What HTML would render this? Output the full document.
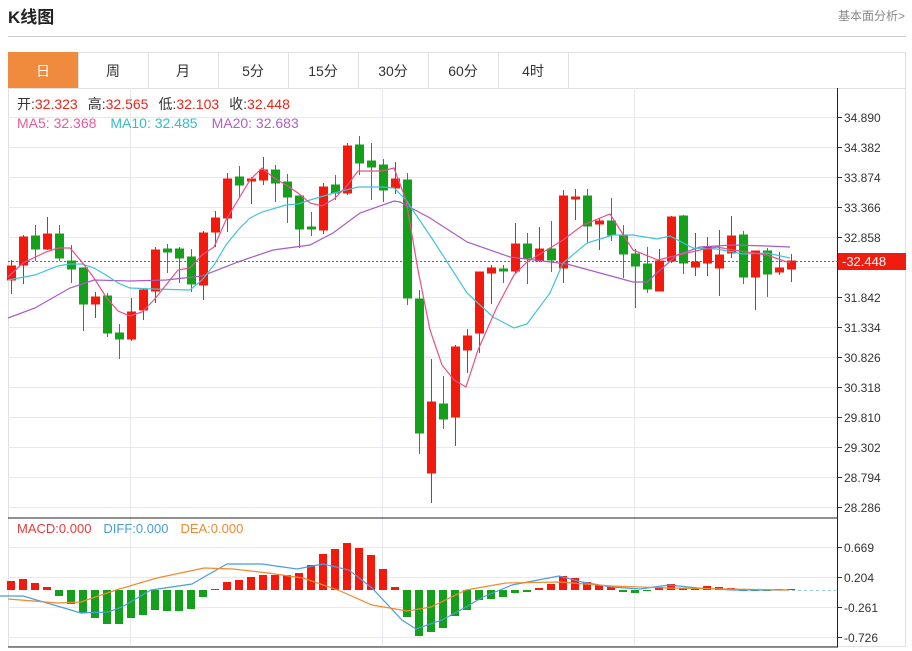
<!DOCTYPE html>
<html><head><meta charset="utf-8"><style>
body{margin:0;width:912px;height:651px;background:#fff;overflow:hidden;font-family:"Liberation Sans","Noto Sans CJK SC",sans-serif;}
</style></head><body>
<svg width="912" height="651" xmlns="http://www.w3.org/2000/svg" style="position:absolute;left:0;top:0;font-family:'Liberation Sans','Noto Sans CJK SC',sans-serif">
<text x="8" y="23" font-size="17" font-weight="bold" fill="#222">K线图</text>
<text x="905" y="20" font-size="12" fill="#888" text-anchor="end">基本面分析&gt;</text>
<line x1="8" y1="36.5" x2="906" y2="36.5" stroke="#ccc"/>
<rect x="8.5" y="52.5" width="897" height="594" fill="none" stroke="#e0e0e0"/>
<line x1="8" y1="88.5" x2="906" y2="88.5" stroke="#e0e0e0"/>
<rect x="8" y="52" width="70" height="36" fill="#f08a3c"/>
<g stroke="#e0e0e0"><line x1="148.5" y1="52" x2="148.5" y2="88"/><line x1="218.5" y1="52" x2="218.5" y2="88"/><line x1="288.5" y1="52" x2="288.5" y2="88"/><line x1="358.5" y1="52" x2="358.5" y2="88"/><line x1="428.5" y1="52" x2="428.5" y2="88"/><line x1="498.5" y1="52" x2="498.5" y2="88"/><line x1="568.5" y1="52" x2="568.5" y2="88"/><line x1="78.5" y1="52" x2="78.5" y2="88"/></g>
<g font-size="14" fill="#333" text-anchor="middle"><text x="43" y="76" fill="#fff">日</text><text x="113" y="76">周</text><text x="183" y="76">月</text><text x="253" y="76">5分</text><text x="323" y="76">15分</text><text x="393" y="76">30分</text><text x="463" y="76">60分</text><text x="533" y="76">4时</text></g>
<g stroke="#e6e9ee"><line x1="8" y1="117.5" x2="838" y2="117.5"/><line x1="8" y1="147.5" x2="838" y2="147.5"/><line x1="8" y1="177.5" x2="838" y2="177.5"/><line x1="8" y1="207.5" x2="838" y2="207.5"/><line x1="8" y1="237.5" x2="838" y2="237.5"/><line x1="8" y1="267.5" x2="838" y2="267.5"/><line x1="8" y1="297.5" x2="838" y2="297.5"/><line x1="8" y1="327.5" x2="838" y2="327.5"/><line x1="8" y1="357.5" x2="838" y2="357.5"/><line x1="8" y1="387.5" x2="838" y2="387.5"/><line x1="8" y1="417.5" x2="838" y2="417.5"/><line x1="8" y1="447.5" x2="838" y2="447.5"/><line x1="8" y1="477.5" x2="838" y2="477.5"/><line x1="8" y1="507.5" x2="838" y2="507.5"/>
<line x1="8" y1="547.5" x2="838" y2="547.5"/><line x1="8" y1="577.5" x2="838" y2="577.5"/><line x1="8" y1="607.5" x2="838" y2="607.5"/><line x1="8" y1="637.5" x2="838" y2="637.5"/>
<line x1="130.5" y1="88" x2="130.5" y2="647"/><line x1="382.5" y1="88" x2="382.5" y2="647"/><line x1="634.5" y1="88" x2="634.5" y2="647"/></g>
<line x1="8" y1="518" x2="838" y2="518" stroke="#222"/>
<line x1="8" y1="647" x2="838" y2="647" stroke="#222"/>
<line x1="837.5" y1="88" x2="837.5" y2="647" stroke="#222"/>
<g font-size="12" fill="#333"><g stroke="#333">
<line x1="838" y1="117.5" x2="842" y2="117.5"/><line x1="838" y1="147.5" x2="842" y2="147.5"/><line x1="838" y1="177.5" x2="842" y2="177.5"/><line x1="838" y1="207.5" x2="842" y2="207.5"/><line x1="838" y1="237.5" x2="842" y2="237.5"/><line x1="838" y1="297.5" x2="842" y2="297.5"/><line x1="838" y1="327.5" x2="842" y2="327.5"/><line x1="838" y1="357.5" x2="842" y2="357.5"/><line x1="838" y1="387.5" x2="842" y2="387.5"/><line x1="838" y1="417.5" x2="842" y2="417.5"/><line x1="838" y1="447.5" x2="842" y2="447.5"/><line x1="838" y1="477.5" x2="842" y2="477.5"/><line x1="838" y1="507.5" x2="842" y2="507.5"/><line x1="838" y1="547.5" x2="842" y2="547.5"/><line x1="838" y1="577.5" x2="842" y2="577.5"/><line x1="838" y1="607.5" x2="842" y2="607.5"/><line x1="838" y1="637.5" x2="842" y2="637.5"/></g>
<text x="844" y="122">34.890</text><text x="844" y="152">34.382</text><text x="844" y="182">33.874</text><text x="844" y="212">33.366</text><text x="844" y="242">32.858</text><text x="844" y="302">31.842</text><text x="844" y="332">31.334</text><text x="844" y="362">30.826</text><text x="844" y="392">30.318</text><text x="844" y="422">29.810</text><text x="844" y="452">29.302</text><text x="844" y="482">28.794</text><text x="844" y="512">28.286</text>
<text x="844" y="552">0.669</text><text x="844" y="582">0.204</text><text x="844" y="612">-0.261</text><text x="844" y="642">-0.726</text></g>
<line x1="8" y1="261.5" x2="838" y2="261.5" stroke="#f03030" stroke-dasharray="2,2"/>
<rect x="838" y="253" width="68" height="17" fill="#f01c10"/>
<text x="842" y="266" font-size="13" fill="#fff">-32.448</text>
<g font-size="14"><text x="17" y="109"><tspan fill="#333">开:</tspan><tspan fill="#e8261a">32.323</tspan><tspan fill="#333" dx="10">高:</tspan><tspan fill="#e8261a">32.565</tspan><tspan fill="#333" dx="10">低:</tspan><tspan fill="#e8261a">32.103</tspan><tspan fill="#333" dx="10">收:</tspan><tspan fill="#e8261a">32.448</tspan></text>
<text x="17" y="128"><tspan fill="#e85a9a">MA5: 32.368</tspan><tspan fill="#33bdc8" dx="14">MA10: 32.485</tspan><tspan fill="#b060c0" dx="14">MA20: 32.683</tspan></text></g>
<g font-size="13"><text x="17" y="533"><tspan fill="#e83a3a">MACD:0.000</tspan><tspan fill="#4a9ee0" dx="12">DIFF:0.000</tspan><tspan fill="#f08a30" dx="12">DEA:0.000</tspan></text></g>
<g fill="#f21a0c" stroke="#f21a0c">
<line x1="11.5" y1="260" x2="11.5" y2="294"/><rect x="7.5" y="266" width="8" height="14"/>
<line x1="23.5" y1="235" x2="23.5" y2="284"/><rect x="19.5" y="237" width="8" height="28"/>
<line x1="47.5" y1="217" x2="47.5" y2="250"/><rect x="43.5" y="234" width="8" height="15"/>
<line x1="95.5" y1="292" x2="95.5" y2="318"/><rect x="91.5" y="297" width="8" height="7"/>
<line x1="131.5" y1="298" x2="131.5" y2="341"/><rect x="127.5" y="312" width="8" height="27"/>
<line x1="143.5" y1="288" x2="143.5" y2="320"/><rect x="139.5" y="290" width="8" height="20"/>
<line x1="155.5" y1="247" x2="155.5" y2="303"/><rect x="151.5" y="250" width="8" height="41"/>
<line x1="203.5" y1="231" x2="203.5" y2="300"/><rect x="199.5" y="233" width="8" height="52"/>
<line x1="215.5" y1="211" x2="215.5" y2="247"/><rect x="211.5" y="218" width="8" height="14"/>
<line x1="227.5" y1="173" x2="227.5" y2="232"/><rect x="223.5" y="179" width="8" height="39"/>
<line x1="251.5" y1="177" x2="251.5" y2="204"/><rect x="247.5" y="179" width="8" height="2"/>
<line x1="263.5" y1="157" x2="263.5" y2="185"/><rect x="259.5" y="170" width="8" height="10"/>
<line x1="323.5" y1="183" x2="323.5" y2="234"/><rect x="319.5" y="187" width="8" height="43"/>
<line x1="347.5" y1="143" x2="347.5" y2="195"/><rect x="343.5" y="146" width="8" height="47"/>
<line x1="395.5" y1="162" x2="395.5" y2="194"/><rect x="391.5" y="179" width="8" height="9"/>
<line x1="431.5" y1="359" x2="431.5" y2="503"/><rect x="427.5" y="402" width="8" height="71"/>
<line x1="455.5" y1="345" x2="455.5" y2="446"/><rect x="451.5" y="347" width="8" height="70"/>
<line x1="467.5" y1="329" x2="467.5" y2="373"/><rect x="463.5" y="336" width="8" height="14"/>
<line x1="479.5" y1="272" x2="479.5" y2="353"/><rect x="475.5" y="272" width="8" height="61"/>
<line x1="491.5" y1="265" x2="491.5" y2="304"/><rect x="487.5" y="268" width="8" height="5"/>
<line x1="515.5" y1="223" x2="515.5" y2="273"/><rect x="511.5" y="244" width="8" height="27"/>
<line x1="539.5" y1="227" x2="539.5" y2="262"/><rect x="535.5" y="249" width="8" height="12"/>
<line x1="563.5" y1="190" x2="563.5" y2="283"/><rect x="559.5" y="196" width="8" height="72"/>
<line x1="575.5" y1="189" x2="575.5" y2="220"/><rect x="571.5" y="197" width="8" height="2"/>
<line x1="599.5" y1="218" x2="599.5" y2="250"/><rect x="595.5" y="221" width="8" height="3"/>
<line x1="659.5" y1="249" x2="659.5" y2="291"/><rect x="655.5" y="261" width="8" height="30"/>
<line x1="671.5" y1="216" x2="671.5" y2="263"/><rect x="667.5" y="217" width="8" height="44"/>
<line x1="695.5" y1="233" x2="695.5" y2="276"/><rect x="691.5" y="262" width="8" height="5"/>
<line x1="707.5" y1="237" x2="707.5" y2="276"/><rect x="703.5" y="247" width="8" height="16"/>
<line x1="719.5" y1="230" x2="719.5" y2="296"/><rect x="715.5" y="255" width="8" height="13"/>
<line x1="731.5" y1="216" x2="731.5" y2="258"/><rect x="727.5" y="236" width="8" height="17"/>
<line x1="755.5" y1="251" x2="755.5" y2="310"/><rect x="751.5" y="251" width="8" height="26"/>
<line x1="779.5" y1="252" x2="779.5" y2="275"/><rect x="775.5" y="268" width="8" height="4"/>
<line x1="791.5" y1="254" x2="791.5" y2="282"/><rect x="787.5" y="261" width="8" height="8"/>
</g>
<g fill="#14a01a" stroke="#14a01a">
<line x1="35.5" y1="225" x2="35.5" y2="261"/><rect x="31.5" y="236" width="8" height="13"/>
<line x1="59.5" y1="225" x2="59.5" y2="261"/><rect x="55.5" y="234" width="8" height="24"/>
<line x1="71.5" y1="245" x2="71.5" y2="283"/><rect x="67.5" y="261" width="8" height="8"/>
<line x1="83.5" y1="268" x2="83.5" y2="331"/><rect x="79.5" y="268" width="8" height="36"/>
<line x1="107.5" y1="293" x2="107.5" y2="337"/><rect x="103.5" y="296" width="8" height="37"/>
<line x1="119.5" y1="324" x2="119.5" y2="359"/><rect x="115.5" y="333" width="8" height="6"/>
<line x1="167.5" y1="244" x2="167.5" y2="273"/><rect x="163.5" y="249" width="8" height="3"/>
<line x1="179.5" y1="247" x2="179.5" y2="283"/><rect x="175.5" y="249" width="8" height="9"/>
<line x1="191.5" y1="249" x2="191.5" y2="292"/><rect x="187.5" y="257" width="8" height="27"/>
<line x1="239.5" y1="166" x2="239.5" y2="198"/><rect x="235.5" y="177" width="8" height="8"/>
<line x1="275.5" y1="165" x2="275.5" y2="202"/><rect x="271.5" y="170" width="8" height="13"/>
<line x1="287.5" y1="174" x2="287.5" y2="223"/><rect x="283.5" y="182" width="8" height="15"/>
<line x1="299.5" y1="196" x2="299.5" y2="248"/><rect x="295.5" y="196" width="8" height="33"/>
<line x1="311.5" y1="212" x2="311.5" y2="236"/><rect x="307.5" y="227" width="8" height="2"/>
<line x1="335.5" y1="175" x2="335.5" y2="200"/><rect x="331.5" y="185" width="8" height="8"/>
<line x1="359.5" y1="136" x2="359.5" y2="175"/><rect x="355.5" y="145" width="8" height="18"/>
<line x1="371.5" y1="143" x2="371.5" y2="200"/><rect x="367.5" y="161" width="8" height="6"/>
<line x1="383.5" y1="159" x2="383.5" y2="202"/><rect x="379.5" y="165" width="8" height="25"/>
<line x1="407.5" y1="173" x2="407.5" y2="305"/><rect x="403.5" y="180" width="8" height="118"/>
<line x1="419.5" y1="290" x2="419.5" y2="454"/><rect x="415.5" y="299" width="8" height="134"/>
<line x1="443.5" y1="376" x2="443.5" y2="429"/><rect x="439.5" y="404" width="8" height="15"/>
<line x1="503.5" y1="265" x2="503.5" y2="283"/><rect x="499.5" y="269" width="8" height="2"/>
<line x1="527.5" y1="233" x2="527.5" y2="284"/><rect x="523.5" y="244" width="8" height="14"/>
<line x1="551.5" y1="221" x2="551.5" y2="272"/><rect x="547.5" y="249" width="8" height="11"/>
<line x1="587.5" y1="189" x2="587.5" y2="243"/><rect x="583.5" y="196" width="8" height="30"/>
<line x1="611.5" y1="198" x2="611.5" y2="241"/><rect x="607.5" y="221" width="8" height="14"/>
<line x1="623.5" y1="225" x2="623.5" y2="278"/><rect x="619.5" y="235" width="8" height="19"/>
<line x1="635.5" y1="249" x2="635.5" y2="308"/><rect x="631.5" y="254" width="8" height="12"/>
<line x1="647.5" y1="247" x2="647.5" y2="293"/><rect x="643.5" y="264" width="8" height="25"/>
<line x1="683.5" y1="215" x2="683.5" y2="274"/><rect x="679.5" y="216" width="8" height="47"/>
<line x1="743.5" y1="231" x2="743.5" y2="284"/><rect x="739.5" y="235" width="8" height="42"/>
<line x1="767.5" y1="248" x2="767.5" y2="297"/><rect x="763.5" y="251" width="8" height="23"/>
</g>
<polyline fill="none" stroke="#a85cc4" stroke-width="1.2" points="8,318 35,308 70,288 94,280 130,281 166,280 202,276 238,262 273,250 310,245 333,233 360,213 394,201 400,202 430,218 467,242 510,257 567,264 633,282 647,282 677,255 700,247 733,245 767,246 790,247"/>
<polyline fill="none" stroke="#40c4d4" stroke-width="1.2" points="8,280 35,275 58,266 70,264 82,264 94,268 106,275 118,283 130,288 154,289 190,290 202,280 214,265 226,245 238,230 250,218 262,212 286,205 298,204 310,200 334,193 358,187 382,187 394,188 406,200 433,240 467,293 493,317 514,328 527,324 550,293 563,263 587,243 613,235 633,235 657,239 670,236 693,248 717,249 743,254 767,253 790,258"/>
<polyline fill="none" stroke="#e8508a" stroke-width="1.2" points="8,277 23,263 46,252 58,248 70,248 82,262 94,278 106,297 118,311 130,316 142,312 154,300 166,285 178,270 190,268 202,255 214,247 226,220 238,200 250,180 262,168 274,178 286,185 298,193 310,203 322,206 334,199 346,187 358,171 382,171 394,168 406,200 418,270 430,330 442,365 454,380 466,387 478,350 497,307 514,275 527,262 550,248 563,240 583,225 610,214 633,250 658,260 670,257 700,250 717,247 733,250 767,255 790,263"/>
<g fill="#f21a0c">
<rect x="7" y="581" width="8" height="9"/><rect x="19" y="579" width="8" height="11"/><rect x="31" y="583" width="8" height="7"/><rect x="43" y="587" width="8" height="3"/>
<rect x="211" y="589" width="8" height="1"/><rect x="223" y="582" width="8" height="8"/><rect x="235" y="580" width="8" height="10"/><rect x="247" y="577" width="8" height="13"/><rect x="259" y="575" width="8" height="15"/><rect x="271" y="575" width="8" height="15"/><rect x="283" y="575" width="8" height="15"/><rect x="295" y="573" width="8" height="17"/><rect x="307" y="565" width="8" height="25"/><rect x="319" y="554" width="8" height="36"/><rect x="331" y="549" width="8" height="41"/><rect x="343" y="543" width="8" height="47"/><rect x="355" y="548" width="8" height="42"/><rect x="367" y="555" width="8" height="35"/><rect x="379" y="569" width="8" height="21"/><rect x="391" y="587" width="8" height="3"/>
<rect x="535" y="588" width="8" height="2"/><rect x="547" y="584" width="8" height="6"/><rect x="559" y="576" width="8" height="14"/><rect x="571" y="578" width="8" height="12"/><rect x="583" y="582" width="8" height="8"/><rect x="595" y="585" width="8" height="5"/><rect x="607" y="587" width="8" height="3"/>
<rect x="655" y="587" width="8" height="3"/><rect x="667" y="584" width="8" height="6"/><rect x="679" y="588" width="8" height="2"/><rect x="691" y="588" width="8" height="2"/><rect x="703" y="586" width="8" height="4"/><rect x="715" y="587" width="8" height="3"/><rect x="727" y="588" width="8" height="2"/><rect x="775" y="589" width="8" height="1"/><rect x="787" y="589" width="8" height="1"/>
</g>
<g fill="#14a01a">
<rect x="55" y="590" width="8" height="6"/><rect x="67" y="590" width="8" height="14"/><rect x="79" y="590" width="8" height="23"/><rect x="91" y="590" width="8" height="28"/><rect x="103" y="590" width="8" height="34"/><rect x="115" y="590" width="8" height="34"/><rect x="127" y="590" width="8" height="28"/><rect x="139" y="590" width="8" height="25"/><rect x="151" y="590" width="8" height="20"/><rect x="163" y="590" width="8" height="21"/><rect x="175" y="590" width="8" height="21"/><rect x="187" y="590" width="8" height="19"/><rect x="199" y="590" width="8" height="7"/>
<rect x="403" y="590" width="8" height="27"/><rect x="415" y="590" width="8" height="46"/><rect x="427" y="590" width="8" height="42"/><rect x="439" y="590" width="8" height="38"/><rect x="451" y="590" width="8" height="26"/><rect x="463" y="590" width="8" height="20"/><rect x="475" y="590" width="8" height="10"/><rect x="487" y="590" width="8" height="9"/><rect x="499" y="590" width="8" height="7"/><rect x="511" y="590" width="8" height="3"/><rect x="523" y="590" width="8" height="2"/>
<rect x="619" y="590" width="8" height="2"/><rect x="631" y="590" width="8" height="3"/><rect x="643" y="590" width="8" height="1"/><rect x="739" y="590" width="8" height="1"/><rect x="751" y="590" width="8" height="1"/><rect x="763" y="590" width="8" height="1"/>
</g>
<polyline fill="none" stroke="#4a9ee0" stroke-width="1.2" points="0,596 23,596 81,613 108,612 122,607 151,590 192,584 204,577 227,564 262,564 297,569 323,564 349,570 372,588 402,620 416,629 442,620 466,607 483,597 512,585 559,576 582,582 611,587 640,589 669,585 698,588 733,590 789,590"/>
<polyline fill="none" stroke="#f08a30" stroke-width="1.2" points="8,599 58,603 81,602 116,590 157,578 204,568 233,569 268,573 303,578 338,590 372,605 407,611 431,607 466,590 506,583 559,582 611,586 669,588 789,590"/>
<line x1="792" y1="590.5" x2="836" y2="590.5" stroke="#9cc8e8" stroke-dasharray="3,3"/>
</svg>
</body></html>
